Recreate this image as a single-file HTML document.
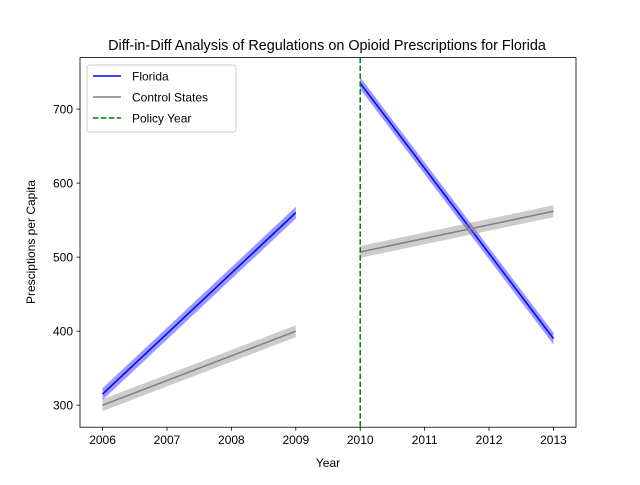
<!DOCTYPE html>
<html><head><meta charset="utf-8"><style>
body{margin:0;background:#fff;}
svg{font-family:"Liberation Sans","DejaVu Sans",sans-serif;}
</style></head><body>
<svg id="chart" width="640" height="480" xmlns="http://www.w3.org/2000/svg"></svg>
<script>
const years=[2006,2007,2008,2009,2010,2011,2012,2013];
const floridaPre=[[2006,315],[2009,560]];
const floridaPost=[[2010,735],[2013,390]];
const controlPre=[[2006,300],[2009,400]];
const controlPost=[[2010,507],[2013,562]];
const bandHalf=8;
const policyYear=2010;
const yTicks=[300,400,500,600,700];

const L=80,R=576,T=57.6,B=427.2;
const xMin=2005.65,xMax=2013.35,yMin=270.3,yMax=769.5;
const X=v=>L+(v-xMin)/(xMax-xMin)*(R-L);
const Y=v=>B-(v-yMin)/(yMax-yMin)*(B-T);
const svg=document.getElementById('chart');
const NS='http://www.w3.org/2000/svg';
function mk(tag,attrs,parent){const e=document.createElementNS(NS,tag);for(const k in attrs)e.setAttribute(k,attrs[k]);(parent||svg).appendChild(e);return e;}

let t=mk('text',{x:327,y:50,'font-size':14.4,'text-anchor':'middle',fill:'#000'});


t.textContent='Diff-in-Diff Analysis of Regulations on Opioid Prescriptions for Florida';

function series(pts,color,bandColor,name){
  const [a,b]=pts;
  const poly=mk('polygon',{points:`${X(a[0])},${Y(a[1]+bandHalf)} ${X(b[0])},${Y(b[1]+bandHalf)} ${X(b[0])},${Y(b[1]-bandHalf)} ${X(a[0])},${Y(a[1]-bandHalf)}`,fill:bandColor,'fill-opacity':0.4});
  
  
  const ln=mk('line',{x1:X(a[0]),y1:Y(a[1]),x2:X(b[0]),y2:Y(b[1]),stroke:color,'stroke-width':1.5});
  
  
}
series(floridaPre,'#0000ff','#0000ff','florida-pre');
series(controlPre,'#808080','#808080','control-pre');
series(floridaPost,'#0000ff','#0000ff','florida-post');
series(controlPost,'#808080','#808080','control-post');

const pl=mk('line',{x1:X(policyYear),y1:T,x2:X(policyYear),y2:B,stroke:'#008000','stroke-width':1.5,'stroke-dasharray':'5.5,2.4'});



const frame=mk('rect',{x:L,y:T,width:R-L,height:B-T,fill:'none',stroke:'#000','stroke-width':0.8});



years.forEach(yr=>{
  mk('line',{x1:X(yr),y1:B,x2:X(yr),y2:B+3.5,stroke:'#000','stroke-width':0.8});
  const tx=mk('text',{x:X(yr),y:B+17,'font-size':12,'text-anchor':'middle'});
  
  
  tx.textContent=yr;
});
yTicks.forEach(v=>{
  mk('line',{x1:L-3.5,y1:Y(v),x2:L,y2:Y(v),stroke:'#000','stroke-width':0.8});
  const tx=mk('text',{x:L-7,y:Y(v)+4.5,'font-size':12,'text-anchor':'end'});
  
  
  tx.textContent=v;
});
t=mk('text',{x:328,y:467,'font-size':12,'text-anchor':'middle'});


t.textContent='Year';
t=mk('text',{x:35,y:242,'font-size':12,'text-anchor':'middle',transform:'rotate(-90 35 242)'});


t.textContent='Presciptions per Capita';

const lg=mk('g',{});


mk('rect',{x:87,y:65,width:149,height:67,rx:3,fill:'#fff','fill-opacity':0.8,stroke:'#ccc'},lg);
[['Florida','#0000ff',''],['Control States','#808080',''],['Policy Year','#008000','5.5,2.4']].forEach((e,i)=>{
  const y=76+i*21;
  const g=mk('g',{},lg);
  
  
  const a={x1:93,y1:y,x2:121,y2:y,stroke:e[1],'stroke-width':1.5};
  if(e[2])a['stroke-dasharray']=e[2];
  mk('line',a,g);
  const tx=mk('text',{x:132,y:y+4.5,'font-size':12},g);
  tx.textContent=e[0];
});
</script>
</body></html>
